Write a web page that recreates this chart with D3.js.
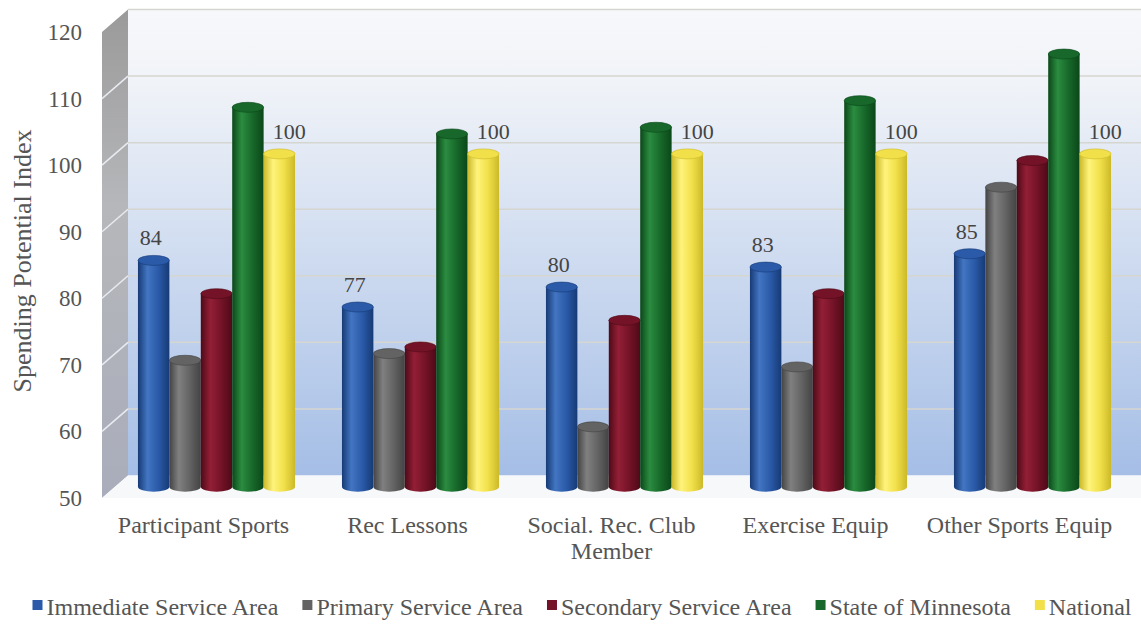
<!DOCTYPE html>
<html>
<head>
<meta charset="utf-8">
<script src="https://d3js.org/d3.v7.min.js"></script>
<style>
  body { margin: 0; background: #fff; }
  text { font-family: "Liberation Serif", "Times New Roman", serif; fill: #555; }
</style>
</head>
<body>
<div id="chart"></div>
<script>
// data
var categories = ["Participant Sports", "Rec Lessons", "Social. Rec. Club Member", "Exercise Equip", "Other Sports Equip"];
var seriesNames = ["Immediate Service Area", "Primary Service Area", "Secondary Service Area", "State of Minnesota", "National"];
var immediate = [84, 77, 80, 83, 85];
var primary = [69, 70, 59, 68, 95];
var secondary = [79, 71, 75, 79, 99];
var minnesota = [107, 103, 104, 108, 115];
var national = [100, 100, 100, 100, 100];
var yTicks = [50, 60, 70, 80, 90, 100, 110, 120];
var labelledSeries = ["Immediate Service Area", "National"];

var values = [immediate, primary, secondary, minnesota, national];

// colours: [dark edge, highlight, base]
var palette = [
  ["#173a75", "#4275c2", "#2a5aa8"],
  ["#434343", "#808080", "#636363"],
  ["#4e0a17", "#931f36", "#741327"],
  ["#0b4719", "#2b8c40", "#17682a"],
  ["#cbb928", "#fff37c", "#f2e04a"]
];

var width = 1141, height = 625;
var depthX = 26, depthY = 22.5;
var wallLeft = 102;

var svg = d3.select("#chart").append("svg")
    .attr("width", width)
    .attr("height", height);

var defs = svg.append("defs");

var wallGrad = defs.append("linearGradient").attr("id", "wall")
    .attr("x1", 0).attr("y1", 0).attr("x2", 0).attr("y2", 1);
wallGrad.append("stop").attr("offset", "0%").attr("stop-color", "#f7f8fb");
wallGrad.append("stop").attr("offset", "16%").attr("stop-color", "#f0f3f8");
wallGrad.append("stop").attr("offset", "100%").attr("stop-color", "#a5bee6");

var sideGrad = defs.append("linearGradient").attr("id", "side")
    .attr("x1", 0).attr("y1", 0).attr("x2", 0).attr("y2", 1);
sideGrad.append("stop").attr("offset", "0%").attr("stop-color", "#9a9a9a");
sideGrad.append("stop").attr("offset", "40%").attr("stop-color", "#b6b7ba");
sideGrad.append("stop").attr("offset", "100%").attr("stop-color", "#a9adbb");

palette.forEach(function(p, i) {
  var g = defs.append("linearGradient").attr("id", "cyl" + i)
      .attr("x1", 0).attr("y1", 0).attr("x2", 1).attr("y2", 0);
  g.append("stop").attr("offset", "0%").attr("stop-color", p[0]);
  g.append("stop").attr("offset", "30%").attr("stop-color", p[1]);
  g.append("stop").attr("offset", "65%").attr("stop-color", p[2]);
  g.append("stop").attr("offset", "100%").attr("stop-color", p[0]);
});

// scales (front plane)
var y = d3.scaleLinear().domain([50, 120]).range([498, 32]);
var x0 = d3.scaleBand().domain(categories)
    .range([101.5, 1121.5]).paddingInner(0.23).paddingOuter(0.115);
var x1 = d3.scaleBand().domain(seriesNames).range([0, x0.bandwidth()]);

// back wall
svg.append("rect")
    .attr("x", wallLeft + depthX)
    .attr("y", y(120) - depthY)
    .attr("width", width - wallLeft - depthX)
    .attr("height", y(50) - y(120))
    .attr("fill", "url(#wall)");

// side wall
svg.append("path")
    .attr("d", "M" + wallLeft + "," + y(120) +
               "L" + (wallLeft + depthX) + "," + (y(120) - depthY) +
               "L" + (wallLeft + depthX) + "," + (y(50) - depthY) +
               "L" + wallLeft + "," + y(50) + "Z")
    .attr("fill", "url(#side)");

// floor
svg.append("path")
    .attr("d", "M" + wallLeft + "," + y(50) +
               "L" + (wallLeft + depthX) + "," + (y(50) - depthY) +
               "L" + width + "," + (y(50) - depthY) +
               "L" + width + "," + y(50) + "Z")
    .attr("fill", "#f7f8fa");

// gridlines
var grid = svg.append("g");
grid.selectAll(".back").data(yTicks.slice(1)).enter().append("line")
    .attr("x1", wallLeft + depthX).attr("x2", width)
    .attr("y1", function(d) { return y(d) - depthY; })
    .attr("y2", function(d) { return y(d) - depthY; })
    .attr("stroke", "#d6d6d0").attr("stroke-width", 1.5);
grid.selectAll(".side").data(yTicks.slice(1, -1)).enter().append("line")
    .attr("x1", wallLeft).attr("x2", wallLeft + depthX)
    .attr("y1", function(d) { return y(d); })
    .attr("y2", function(d) { return y(d) - depthY; })
    .attr("stroke", "#e8ebf0").attr("stroke-width", 1.5);

// y tick labels
svg.selectAll(".ytick").data(yTicks).enter().append("text")
    .attr("x", 82)
    .attr("y", function(d) { return y(d); })
    .attr("dy", "0.35em")
    .attr("text-anchor", "end")
    .style("font-size", "23px")
    .text(function(d) { return d; });

// y title
svg.append("text")
    .attr("transform", "translate(31," + 261 + ") rotate(-90)")
    .attr("text-anchor", "middle")
    .style("font-size", "26px")
    .text("Spending Potential Index");

// cylinders
var ry = 5;
var bw = x1.bandwidth();
var groups = svg.selectAll(".cat").data(categories).enter().append("g");

groups.each(function(cat, ci) {
  var g = d3.select(this);
  seriesNames.forEach(function(s, si) {
    var v = values[si][ci];
    var left = x0(cat) + x1(s) + depthX / 2;
    var right = left + bw;
    var cx = left + bw / 2;
    var top = y(v) - depthY / 2;
    var bottom = y(50) - depthY / 2;
    var rx = bw / 2;
    g.append("path")
        .attr("d", "M" + left + "," + top + "L" + left + "," + bottom +
                   "A" + rx + "," + ry + " 0 0 0 " + right + "," + bottom +
                   "L" + right + "," + top + "Z")
        .attr("fill", "url(#cyl" + si + ")");
    g.append("ellipse")
        .attr("cx", cx).attr("cy", top)
        .attr("rx", rx).attr("ry", ry)
        .attr("fill", palette[si][2])
        .attr("stroke", palette[si][0]).attr("stroke-width", 0.6);
    if (labelledSeries.indexOf(s) >= 0) {
      g.append("text")
          .attr("x", cx + (si === 0 ? -3 : 10))
          .attr("y", top - 15)
          .attr("text-anchor", "middle")
          .style("font-size", "22px")
          .style("fill", "#444")
          .text(v);
    }
  });
});

// category labels (wrapped)
svg.selectAll(".xlab").data(categories).enter().append("text")
    .attr("x", function(d) { return x0(d) + x0.bandwidth() / 2; })
    .attr("y", 533)
    .attr("text-anchor", "middle")
    .style("font-size", "24px")
    .each(function(d) {
      var t = d3.select(this), words = d.split(" "), line = [];
      var ts = t.append("tspan").attr("x", t.attr("x")).attr("dy", 0);
      words.forEach(function(w) {
        line.push(w);
        ts.text(line.join(" "));
        if (ts.node().getComputedTextLength() > 200 && line.length > 1) {
          line.pop();
          ts.text(line.join(" "));
          line = [w];
          ts = t.append("tspan").attr("x", t.attr("x")).attr("dy", 26).text(w);
        }
      });
    });

// legend
var legend = svg.append("g");
var items = legend.selectAll("g").data(seriesNames).enter().append("g");
items.append("rect")
    .attr("width", 10).attr("height", 10)
    .attr("y", -8)
    .attr("fill", function(d, i) { return palette[i][2]; });
items.append("text")
    .attr("x", 14).attr("y", 0).attr("dy", "0.3em")
    .style("font-size", "24px")
    .text(function(d) { return d; });
var gap = 24, pos = 0, offsets = [];
items.each(function() {
  offsets.push(pos);
  pos += 14 + d3.select(this).select("text").node().getComputedTextLength() + gap;
});
var total = pos - gap;
var startX = 582 - total / 2;
items.attr("transform", function(d, i) { return "translate(" + (startX + offsets[i]) + ",608)"; });
</script>
</body>
</html>
